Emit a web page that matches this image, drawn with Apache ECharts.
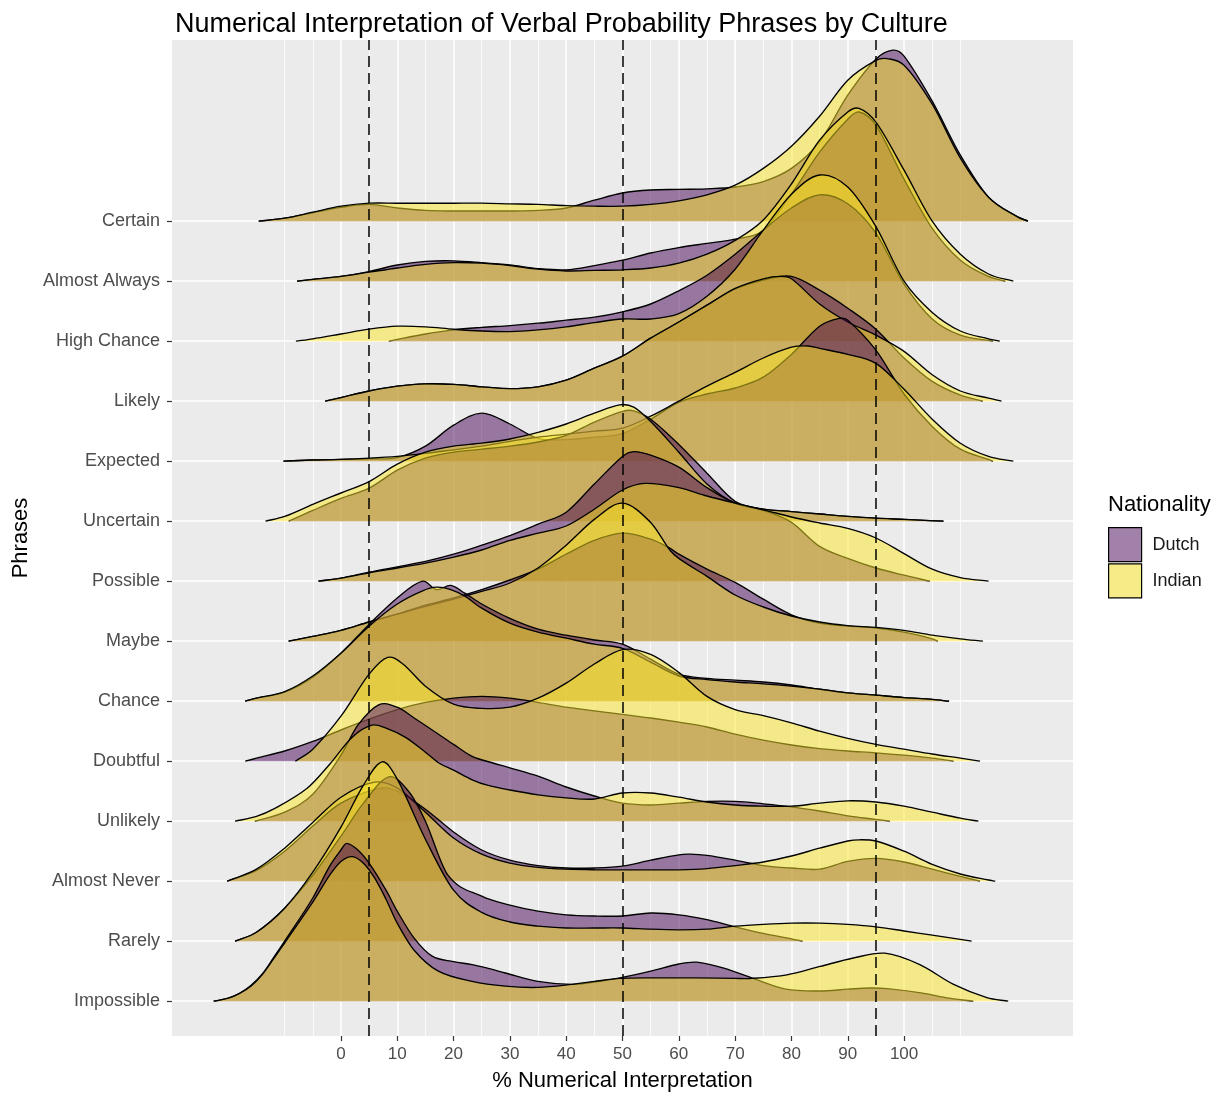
<!DOCTYPE html>
<html>
<head>
<meta charset="utf-8">
<script src="https://cdn.jsdelivr.net/npm/echarts@6/dist/echarts.min.js"></script>
<style>
html,body{margin:0;padding:0;background:#fff;}
#chart{width:1222px;height:1097px;}
</style>
</head>
<body>
<div id="chart"></div>
<script>
// Phrases, top to bottom
const phrases = ['Certain','Almost Always','High Chance','Likely','Expected','Uncertain','Possible','Maybe','Chance','Doubtful','Unlikely','Almost Never','Rarely','Impossible'];
const nationalities = ['Dutch','Indian'];
const xTickLabels = [0,10,20,30,40,50,60,70,80,90,100];
const majorGrid = [0,10,20,30,40,50,60,70,80,90,100];
const minorGrid = [-10,-5,5,15,25,35,45,55,65,75,85,95,105,110];
const referenceLines = [5,50,95];

// Scaled density heights [value %, height in row units]
const certainDutch = [[-14.6,0],[-10,0.05],[-5,0.14],[0,0.23],[5,0.28],[10,0.22],[15,0.18],[20,0.17],[25,0.17],[30,0.17],[35,0.18],[40,0.22],[45,0.35],[50,0.47],[55,0.52],[60,0.53],[65,0.54],[70,0.57],[75,0.66],[80,0.88],[85,1.32],[90,2.1],[95,2.7],[98,2.85],[100,2.75],[105,2.0],[110,1.1],[115,0.4],[120,0.08],[122,0]];
const certainIndian = [[-14.6,0],[-10,0.05],[-5,0.15],[0,0.25],[5,0.3],[10,0.3],[15,0.3],[20,0.3],[25,0.3],[30,0.29],[35,0.28],[40,0.26],[45,0.25],[50,0.25],[55,0.28],[60,0.34],[65,0.44],[70,0.6],[75,0.88],[80,1.25],[85,1.75],[90,2.35],[95,2.68],[97,2.71],[100,2.6],[105,1.95],[110,1.05],[115,0.4],[120,0.08],[122,0]];
const almostAlwaysDutch = [[-7.8,0],[-5,0.03],[0,0.08],[5,0.16],[10,0.27],[15,0.33],[20,0.34],[25,0.31],[30,0.27],[35,0.21],[40,0.19],[45,0.26],[50,0.35],[55,0.47],[60,0.56],[65,0.63],[70,0.7],[75,0.85],[80,1.45],[85,2.15],[90,2.7],[92,2.82],[95,2.6],[100,1.7],[105,0.88],[110,0.35],[115,0.08],[118,0]];
const almostAlwaysIndian = [[-7.8,0],[-5,0.03],[0,0.08],[5,0.15],[10,0.22],[15,0.28],[20,0.31],[25,0.3],[30,0.26],[35,0.2],[40,0.17],[45,0.18],[50,0.19],[55,0.22],[60,0.3],[65,0.45],[70,0.68],[75,1.02],[80,1.62],[85,2.35],[90,2.82],[92,2.88],[95,2.65],[100,1.85],[105,1.0],[110,0.45],[115,0.12],[119.4,0]];
const highChanceDutch = [[8.5,0],[10,0.03],[15,0.12],[20,0.19],[25,0.23],[30,0.26],[35,0.3],[40,0.35],[45,0.4],[50,0.49],[55,0.62],[60,0.84],[65,1.1],[70,1.45],[75,1.85],[80,2.22],[85,2.44],[90,2.29],[95,1.8],[100,0.95],[105,0.37],[110,0.1],[115.8,0]];
const highChanceIndian = [[-8,0],[-5,0.04],[0,0.12],[5,0.2],[10,0.25],[15,0.24],[20,0.2],[25,0.17],[30,0.16],[35,0.19],[40,0.24],[45,0.31],[50,0.37],[55,0.37],[60,0.46],[65,0.75],[70,1.2],[75,1.85],[80,2.45],[85,2.77],[90,2.57],[95,1.91],[100,1.0],[105,0.48],[110,0.17],[115,0.04],[117,0]];
const likelyDutch = [[-2.8,0],[0,0.06],[5,0.17],[10,0.25],[15,0.29],[20,0.28],[25,0.24],[30,0.21],[35,0.24],[40,0.35],[45,0.55],[50,0.75],[55,1.05],[60,1.32],[65,1.6],[70,1.87],[75,2.02],[80,2.08],[85,1.85],[90,1.55],[95,1.2],[100,0.72],[105,0.33],[110,0.1],[114,0]];
const likelyIndian = [[-2.8,0],[0,0.06],[5,0.17],[10,0.25],[15,0.29],[20,0.28],[25,0.24],[30,0.21],[35,0.24],[40,0.35],[45,0.55],[50,0.75],[55,1.05],[60,1.32],[65,1.6],[70,1.88],[75,2.04],[78,2.08],[80,2.04],[85,1.62],[90,1.32],[95,1.1],[100,0.83],[105,0.44],[110,0.17],[115,0.05],[117.3,0]];
const expectedDutch = [[-10.2,0],[-5,0.02],[0,0.03],[5,0.04],[10,0.06],[15,0.25],[20,0.6],[25,0.8],[30,0.62],[35,0.38],[40,0.36],[45,0.4],[50,0.46],[55,0.7],[60,0.98],[65,1.12],[70,1.22],[75,1.4],[80,1.78],[85,2.25],[88.5,2.38],[90,2.35],[95,1.85],[100,1.12],[105,0.58],[110,0.2],[115,0.03],[115.8,0]];
const expectedIndian = [[-10.2,0],[-5,0.02],[0,0.03],[5,0.05],[10,0.08],[15,0.13],[20,0.19],[25,0.25],[30,0.33],[35,0.4],[40,0.45],[45,0.5],[50,0.55],[55,0.75],[60,1.0],[65,1.25],[70,1.48],[75,1.72],[80,1.9],[83,1.92],[85,1.88],[90,1.78],[95,1.63],[100,1.2],[105,0.7],[110,0.3],[115,0.08],[119.4,0]];
const uncertainDutch = [[-9.3,0],[-5,0.18],[0,0.38],[5,0.55],[10,0.85],[15,1.05],[20,1.15],[25,1.2],[30,1.25],[35,1.32],[40,1.43],[45,1.65],[50,1.83],[52,1.84],[55,1.7],[60,1.28],[65,0.8],[70,0.33],[75,0.2],[80,0.16],[85,0.12],[90,0.08],[95,0.05],[100,0.03],[107,0]];
const uncertainIndian = [[-13.4,0],[-10,0.08],[-5,0.28],[0,0.47],[5,0.66],[10,0.95],[15,1.15],[20,1.25],[25,1.3],[30,1.37],[35,1.48],[40,1.62],[45,1.8],[49.5,1.94],[52,1.9],[55,1.66],[60,1.15],[65,0.62],[70,0.3],[75,0.2],[80,0.16],[85,0.12],[90,0.08],[95,0.05],[100,0.03],[107,0]];
const possibleDutch = [[-4,0],[0,0.05],[5,0.15],[10,0.24],[15,0.33],[20,0.45],[25,0.6],[30,0.76],[35,0.95],[40,1.15],[45,1.62],[50,2.08],[52,2.16],[55,2.1],[60,1.9],[65,1.56],[70,1.3],[75,1.18],[80,0.98],[85,0.58],[90,0.38],[95,0.22],[100,0.1],[104.6,0]];
const possibleIndian = [[-4,0],[0,0.05],[5,0.14],[10,0.22],[15,0.3],[20,0.4],[25,0.52],[30,0.68],[35,0.8],[40,0.92],[45,1.2],[50,1.52],[54,1.63],[60,1.56],[65,1.42],[70,1.3],[75,1.19],[80,1.07],[85,0.97],[90,0.88],[95,0.72],[100,0.46],[105,0.2],[110,0.06],[115,0]];
const maybeDutch = [[-9.3,0],[-5,0.08],[0,0.18],[5,0.32],[10,0.45],[15,0.6],[20,0.72],[25,0.86],[30,1.02],[35,1.2],[40,1.45],[45,1.68],[50,1.8],[55,1.7],[58.4,1.55],[60,1.45],[65,1.2],[70,0.98],[75,0.7],[80,0.44],[85,0.3],[90,0.25],[95,0.22],[100,0.15],[105,0.04],[106,0]];
const maybeIndian = [[-9.3,0],[-5,0.08],[0,0.18],[5,0.32],[10,0.45],[15,0.58],[20,0.7],[25,0.83],[30,0.97],[35,1.22],[40,1.6],[45,2.03],[50,2.3],[55,1.98],[58.4,1.52],[60,1.38],[65,1.08],[70,0.77],[75,0.57],[80,0.42],[85,0.32],[90,0.26],[95,0.23],[100,0.18],[105,0.1],[110,0.04],[114,0]];
const chanceDutch = [[-17,0],[-15,0.05],[-10,0.15],[-5,0.4],[0,0.8],[5,1.28],[10,1.72],[14.5,2.0],[17,1.86],[19.5,1.93],[22,1.8],[25,1.62],[30,1.38],[35,1.2],[40,1.1],[45,1.02],[50,0.95],[55,0.7],[60,0.45],[65,0.38],[70,0.35],[75,0.32],[80,0.27],[85,0.2],[90,0.14],[95,0.1],[100,0.06],[105,0.03],[108,0]];
const chanceIndian = [[-17,0],[-15,0.05],[-10,0.16],[-5,0.42],[0,0.8],[5,1.25],[10,1.62],[14.5,1.84],[17,1.9],[19.5,1.86],[22,1.75],[25,1.55],[30,1.3],[35,1.15],[40,1.05],[45,0.95],[50,0.88],[55,0.65],[60,0.42],[65,0.36],[70,0.32],[75,0.29],[80,0.25],[85,0.2],[90,0.14],[95,0.1],[100,0.06],[105,0.03],[108,0]];
const doubtfulDutch = [[-17,0],[-15,0.05],[-10,0.17],[-5,0.33],[0,0.52],[5,0.7],[10,0.86],[15,0.98],[20,1.05],[25,1.08],[30,1.05],[35,0.98],[40,0.9],[45,0.84],[50,0.78],[55,0.72],[60,0.65],[65,0.57],[70,0.45],[75,0.35],[80,0.27],[85,0.21],[90,0.17],[95,0.14],[100,0.1],[105,0.05],[108.8,0]];
const doubtfulIndian = [[-8.1,0],[-5,0.2],[0,0.75],[5,1.45],[8.3,1.73],[11,1.62],[15,1.25],[20,0.95],[25,0.88],[30,0.9],[35,1.05],[40,1.3],[45,1.62],[50,1.86],[55,1.78],[60,1.48],[65,1.08],[70,0.86],[75,0.76],[80,0.64],[85,0.5],[90,0.38],[95,0.28],[100,0.2],[105,0.12],[110,0.05],[113.5,0]];
const unlikelyDutch = [[-15.3,0],[-10,0.15],[-5,0.45],[0,1.1],[3,1.6],[6.7,1.94],[10,1.9],[13,1.72],[17,1.47],[20,1.28],[23.3,1.08],[27,0.97],[30,0.89],[35,0.75],[40,0.57],[45,0.42],[50,0.3],[55,0.27],[60,0.3],[65,0.33],[70,0.33],[75,0.29],[80,0.24],[85,0.17],[90,0.09],[95,0.03],[97.5,0]];
const unlikelyIndian = [[-18.8,0],[-15,0.08],[-12,0.2],[-6,0.55],[-2,0.95],[2,1.4],[5.5,1.6],[8,1.55],[11.4,1.4],[15,1.15],[17.4,0.97],[20,0.85],[23.3,0.69],[26,0.6],[30,0.52],[35,0.44],[40,0.39],[45,0.37],[50,0.47],[55,0.47],[60,0.4],[65,0.32],[70,0.27],[75,0.25],[80,0.25],[85,0.3],[90,0.34],[95,0.32],[100,0.25],[105,0.15],[110,0.05],[113.2,0]];
const almostNeverDutch = [[-20.2,0],[-15,0.18],[-10,0.5],[-5,0.92],[0,1.3],[7,1.55],[10,1.5],[15,1.2],[20,0.82],[25,0.52],[30,0.35],[35,0.26],[40,0.22],[45,0.22],[50,0.25],[55,0.35],[60,0.44],[62,0.45],[65,0.43],[70,0.35],[75,0.26],[80,0.22],[85,0.2],[90,0.33],[95,0.38],[100,0.32],[105,0.2],[110,0.08],[113.5,0]];
const almostNeverIndian = [[-20.2,0],[-15,0.2],[-10,0.55],[-5,0.98],[0,1.4],[6,1.65],[10,1.55],[15,1.15],[20,0.72],[25,0.45],[30,0.3],[35,0.23],[40,0.2],[45,0.19],[50,0.19],[55,0.19],[60,0.19],[65,0.21],[70,0.26],[75,0.32],[80,0.42],[85,0.55],[90,0.67],[92,0.69],[95,0.67],[100,0.5],[105,0.28],[110,0.12],[115,0.02],[116.2,0]];
const rarelyDutch = [[-18.8,0],[-15,0.15],[-10,0.55],[-5,1.1],[0,1.75],[4,2.3],[8.5,2.74],[12,2.5],[15,2.0],[19,1.1],[25,0.75],[30,0.6],[35,0.5],[40,0.44],[45,0.42],[50,0.42],[55,0.47],[60,0.44],[65,0.36],[70,0.24],[75,0.13],[80,0.04],[82,0]];
const rarelyIndian = [[-18.8,0],[-15,0.15],[-10,0.55],[-5,1.15],[0,1.9],[4,2.6],[7.3,2.99],[10,2.7],[15,1.7],[20,0.85],[25,0.48],[30,0.32],[35,0.25],[40,0.22],[45,0.22],[50,0.22],[55,0.2],[60,0.19],[65,0.2],[70,0.25],[75,0.28],[80,0.3],[85,0.3],[90,0.28],[95,0.24],[100,0.17],[105,0.1],[110,0.03],[112,0]];
const impossibleDutch = [[-22.6,0],[-20,0.05],[-18,0.13],[-16,0.26],[-14,0.45],[-12,0.72],[-10,1.0],[-5,1.72],[-2,2.25],[0,2.52],[1,2.63],[3,2.52],[5,2.3],[8,1.85],[10,1.5],[13,1.05],[16.2,0.75],[20,0.66],[23.3,0.61],[26,0.55],[29.2,0.47],[35,0.33],[41,0.28],[45,0.32],[49.6,0.39],[55,0.5],[60,0.62],[63.2,0.65],[68,0.55],[73.2,0.38],[79,0.2],[85,0.17],[90,0.2],[94,0.22],[97,0.21],[103,0.14],[108,0.05],[112.3,0]];
const impossibleIndian = [[-22.6,0],[-20,0.05],[-18,0.13],[-16,0.25],[-14,0.44],[-12,0.7],[-10,0.97],[-5,1.65],[-2,2.1],[0,2.33],[2,2.41],[4,2.3],[6,2.05],[8,1.7],[10,1.3],[13,0.85],[17.3,0.5],[23.3,0.33],[29.2,0.25],[35,0.23],[41,0.28],[45,0.33],[49.6,0.38],[55,0.39],[63,0.39],[70,0.38],[73,0.38],[79.2,0.44],[85.1,0.58],[91,0.72],[96.6,0.8],[102.8,0.61],[108.8,0.28],[114.7,0.06],[118.5,0]];

const ridgeData = {
  'Certain': [certainDutch, certainIndian],
  'Almost Always': [almostAlwaysDutch, almostAlwaysIndian],
  'High Chance': [highChanceDutch, highChanceIndian],
  'Likely': [likelyDutch, likelyIndian],
  'Expected': [expectedDutch, expectedIndian],
  'Uncertain': [uncertainDutch, uncertainIndian],
  'Possible': [possibleDutch, possibleIndian],
  'Maybe': [maybeDutch, maybeIndian],
  'Chance': [chanceDutch, chanceIndian],
  'Doubtful': [doubtfulDutch, doubtfulIndian],
  'Unlikely': [unlikelyDutch, unlikelyIndian],
  'Almost Never': [almostNeverDutch, almostNeverIndian],
  'Rarely': [rarelyDutch, rarelyIndian],
  'Impossible': [impossibleDutch, impossibleIndian]
};

const FONT = '"Liberation Sans", Arial, Helvetica, sans-serif';
const fills = { Dutch: 'rgba(68,1,84,0.5)', Indian: 'rgba(253,231,37,0.5)' };
const n = phrases.length;
const baselineOf = (i) => n - i;             // Certain -> 14, Impossible -> 1
const baselines = phrases.map((p, i) => baselineOf(i));

// smooth monotone-in-x cubic path through pixel points (from api.coord)
function curvePath(P, basePx) {
  const m = P.length;
  const slope = [];
  for (let i = 0; i < m; i++) {
    const a = P[Math.max(0, i - 1)], b = P[Math.min(m - 1, i + 1)];
    const dx = b[0] - a[0];
    slope.push(dx === 0 ? 0 : (b[1] - a[1]) / dx);
  }
  let s = 'M' + P[0][0].toFixed(2) + ',' + P[0][1].toFixed(2);
  for (let i = 0; i < m - 1; i++) {
    const p1 = P[i], p2 = P[i + 1];
    const dx = (p2[0] - p1[0]) / 3;
    const c1x = p1[0] + dx, c1y = Math.min(basePx, p1[1] + slope[i] * dx);
    const c2x = p2[0] - dx, c2y = Math.min(basePx, p2[1] - slope[i + 1] * dx);
    s += ' C' + c1x.toFixed(2) + ',' + c1y.toFixed(2) + ' ' + c2x.toFixed(2) + ',' + c2y.toFixed(2) + ' ' + p2[0].toFixed(2) + ',' + p2[1].toFixed(2);
  }
  return s;
}

const series = [];
// background grid lines (behind ridges)
series.push({
  type: 'line', data: [], silent: true, z: 1, animation: false,
  markLine: {
    z: 1, silent: true, symbol: ['none','none'], label: { show: false }, animation: false,
    data: [
      ...baselines.map(v => ({ yAxis: v, lineStyle: { color: '#FFFFFF', width: 1.6, type: 'solid' } })),
      ...majorGrid.map(v => ({ xAxis: v, lineStyle: { color: '#FFFFFF', width: 1.6, type: 'solid' } })),
      ...minorGrid.map(v => ({ xAxis: v, lineStyle: { color: '#FFFFFF', width: 0.8, type: 'solid' } }))
    ]
  }
});

phrases.forEach((p, i) => {
  const base = baselineOf(i);
  nationalities.forEach((nat, k) => {
    const pts = ridgeData[p][k];
    series.push({
      name: nat, type: 'custom', z: 3, silent: true, animation: false,
      clip: true,
      itemStyle: { color: fills[nat] },
      data: [[pts[0][0], base]],
      renderItem: (params, api) => {
        const P = pts.map(d => api.coord([d[0], base + d[1]]));
        const basePx = api.coord([0, base])[1];
        const line = curvePath(P, basePx);
        const area = line + ' L' + P[P.length - 1][0].toFixed(2) + ',' + basePx.toFixed(2) +
                     ' L' + P[0][0].toFixed(2) + ',' + basePx.toFixed(2) + ' Z';
        return {
          type: 'group',
          children: [
            { type: 'path', shape: { pathData: area }, style: { fill: fills[nat], stroke: null } },
            { type: 'path', shape: { pathData: line }, style: { fill: null, stroke: '#000000', lineWidth: 1.35 } }
          ]
        };
      }
    });
  });
});

// reference dashed lines on top
series.push({
  type: 'line', data: [], silent: true, z: 20, animation: false,
  markLine: {
    z: 20, silent: true, symbol: ['none','none'], label: { show: false }, animation: false,
    data: referenceLines.map(v => ({ xAxis: v })),
    lineStyle: { color: '#000000', width: 1.5, type: [11, 6] }
  }
});

const chart = echarts.init(document.getElementById('chart'), null, { renderer: 'canvas' });
chart.setOption({
  animation: false,
  backgroundColor: '#FFFFFF',
  textStyle: { fontFamily: FONT },
  title: {
    text: 'Numerical Interpretation of Verbal Probability Phrases by Culture',
    left: 170, top: 6,
    textStyle: { fontFamily: FONT, fontSize: 27, fontWeight: 'normal', color: '#000000' }
  },
  grid: {
    left: 172, right: 149, top: 40, bottom: 57,
    show: true, backgroundColor: '#EBEBEB', borderWidth: 0
  },
  legend: {
    orient: 'vertical', left: 1108, top: 527,
    itemWidth: 33, itemHeight: 34, itemGap: 1, padding: 0,
    selectedMode: false,
    textStyle: { fontFamily: FONT, fontSize: 18, color: '#1A1A1A', padding: [0, 0, 0, 6] },
    data: [
      { name: 'Dutch', icon: 'rect', itemStyle: { color: '#A181A9', borderColor: '#000000', borderWidth: 1.2 } },
      { name: 'Indian', icon: 'rect', itemStyle: { color: '#F6EC87', borderColor: '#000000', borderWidth: 1.2 } }
    ]
  },
  graphic: [{
    type: 'text', left: 1108, top: 494,
    style: { text: 'Nationality', fontFamily: FONT, fontSize: 22, fill: '#000000' }
  }],
  xAxis: {
    type: 'value', min: -30, max: 130,
    name: '% Numerical Interpretation', nameLocation: 'middle', nameGap: 34,
    nameTextStyle: { fontFamily: FONT, fontSize: 22, color: '#000000' },
    axisLine: { show: false, onZero: false },
    splitLine: { show: false },
    axisTick: { show: true, customValues: xTickLabels, length: 5, lineStyle: { color: '#333333', width: 1.2 } },
    axisLabel: { customValues: xTickLabels, fontFamily: FONT, fontSize: 17, color: '#4D4D4D', margin: 10 }
  },
  yAxis: {
    type: 'value', min: 0.42, max: 17.02,
    name: 'Phrases', nameLocation: 'middle', nameGap: 136,
    nameTextStyle: { fontFamily: FONT, fontSize: 22, color: '#000000' },
    axisLine: { show: false, onZero: false },
    splitLine: { show: false },
    axisTick: { show: true, customValues: baselines, length: 5, lineStyle: { color: '#333333', width: 1.2 } },
    axisLabel: {
      customValues: baselines, fontFamily: FONT, fontSize: 18, color: '#4D4D4D', margin: 12,
      formatter: (v) => phrases[n - Math.round(v)] || ''
    }
  },
  series
});
</script>
</body>
</html>
